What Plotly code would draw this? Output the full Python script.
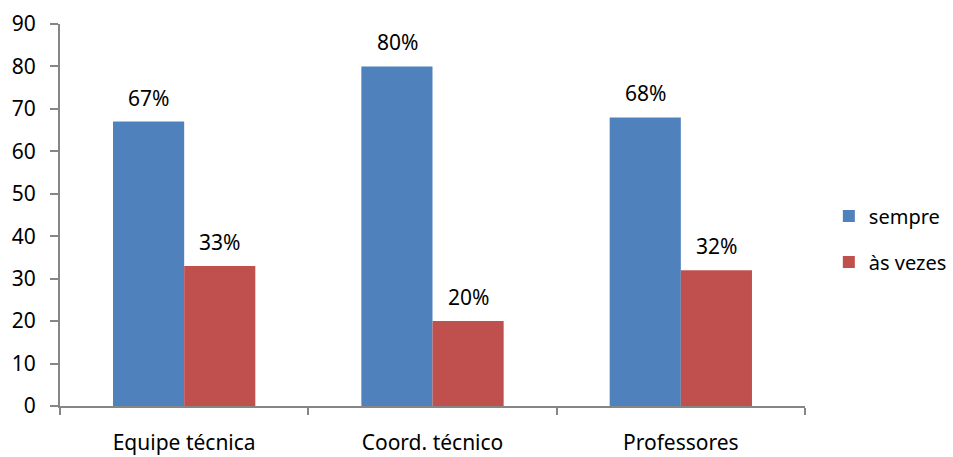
import plotly.graph_objects as go

categories = ["Equipe técnica", "Coord. técnico", "Professores"]
sempre = [67, 80, 68]
as_vezes = [33, 20, 32]
series_names = ["sempre", "às vezes"]
colors = ["#4F81BD", "#C0504D"]
y_ticks = list(range(0, 91, 10))

FONT = "Noto Sans"
FS = 21
fig = go.Figure()
for name, vals, col, grp in [(series_names[0], sempre, colors[0], "a"), (series_names[1], as_vezes, colors[1], "b")]:
    fig.add_trace(go.Bar(
        x=categories, y=vals, name=name, marker=dict(color=col, line=dict(width=0)),
        legendgroup=grp, offsetgroup=grp,
    ))

# value labels above bars
annotations = []
for vals, xs in [(sempre, -35.5), (as_vezes, 35.5)]:
    for c, v in zip(categories, vals):
        annotations.append(dict(x=c, y=v, xref="x", yref="y", text=f"{v}%", showarrow=False,
                                xshift=xs, yshift=8, yanchor="bottom",
                                font=dict(family=FONT, size=FS, color="#000000")))

fig.update_layout(
    barmode="group", bargap=0.427, bargroupgap=0,
    width=953, height=457,
    margin=dict(l=60, r=148, t=24, b=51, autoexpand=False),
    paper_bgcolor="white", plot_bgcolor="white",
    font=dict(family=FONT, size=FS, color="#000000"),
    showlegend=True,
    annotations=annotations,
    legend=dict(x=1.032, y=0.437, xanchor="left", yanchor="middle",
                font=dict(size=20), tracegroupgap=17, traceorder="grouped"),
    xaxis=dict(showline=True, linecolor="#868686", linewidth=2,
               ticks="outside", tickson="boundaries", ticklen=7, tickcolor="#868686", tickwidth=2,
               showgrid=False, tickfont=dict(size=FS), ticklabelstandoff=17, automargin=False),
    yaxis=dict(range=[0, 90], tickvals=y_ticks, showline=True, linecolor="#868686", linewidth=2,
               ticks="outside", ticklen=8, tickcolor="#868686", tickwidth=2,
               showgrid=False, zeroline=False, tickfont=dict(size=FS), ticklabelstandoff=10,
               automargin=False),
)

fig.write_html("out.html")
